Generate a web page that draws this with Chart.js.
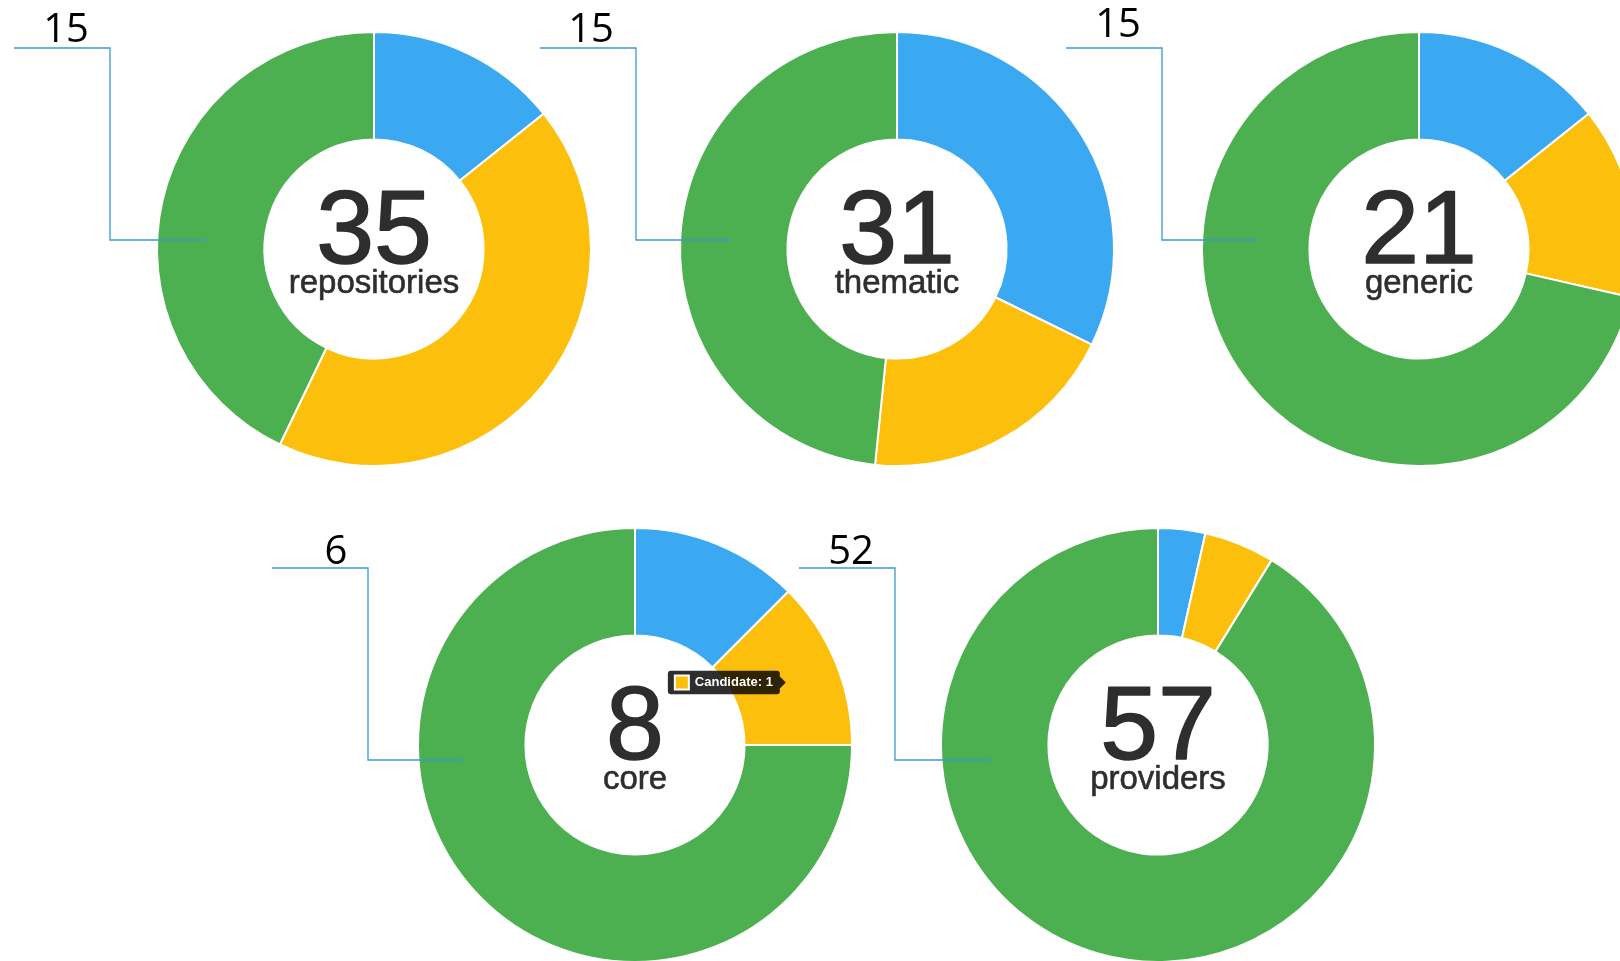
<!DOCTYPE html>
<html>
<head>
<meta charset="utf-8">
<title>Registry overview</title>
<script src="https://cdn.jsdelivr.net/npm/chart.js@4/dist/chart.umd.min.js"></script>
<style>
    html, body { margin: 0; padding: 0; background: #ffffff; overflow: hidden; }
    body { width: 1620px; height: 961px; position: relative; }
    canvas { position: absolute; }
</style>
</head>
<body>
<div id="charts"></div>
<script>
// one doughnut per group, three status slices each
var groupNames = ['repositories', 'thematic', 'generic', 'core', 'providers'];
var statusLabels = ['Approved', 'Candidate', 'Registered'];
var approvedCounts = [5, 10, 3, 1, 2];
var candidateCounts = [15, 6, 3, 1, 3];
var registeredCounts = [15, 15, 15, 6, 52];

var statusColours = ['#3ba8f2', '#fbbf0c', '#4caf50'];

// where each doughnut sits on the page, and its callout geometry (relative to the centre)
var layout = [
    {cx: 374, cy: 249, textX: -308, textY: -207, x0: -360, x1: -264, lineY: -201, elbowY: -9, endX: -168},
    {cx: 897, cy: 249, textX: -306, textY: -207, x0: -357, x1: -261, lineY: -201, elbowY: -9, endX: -165},
    {cx: 1419, cy: 249, textX: -301, textY: -212, x0: -353, x1: -257, lineY: -201, elbowY: -9, endX: -161},
    {cx: 635, cy: 745, textX: -299, textY: -181, x0: -363, x1: -267, lineY: -177, elbowY: 15, endX: -172},
    {cx: 1158, cy: 745, textX: -307, textY: -181, x0: -359, x1: -263, lineY: -177, elbowY: 15, endX: -167}
];

var CANVAS_W = 610, CANVAS_H = 480, PAD_LEFT = 160, PAD_TOP = 40;

var centreText = {
    id: 'centreText',
    afterDatasetsDraw: function(chart) {
        var arc = chart.getDatasetMeta(0).data[0];
        var ctx = chart.ctx;
        var total = chart.data.datasets[0].data.reduce(function(a, b) { return a + b; }, 0);
        ctx.save();
        ctx.fillStyle = '#2e2e2e';
        ctx.strokeStyle = '#2e2e2e';
        ctx.textAlign = 'center';
        ctx.textBaseline = 'alphabetic';
        ctx.lineJoin = 'round';
        // a thin stroke gives the numbers a slightly heavier weight
        ctx.font = '104px "Liberation Sans", Arial, sans-serif';
        ctx.lineWidth = 1.6;
        ctx.fillText(String(total), arc.x, arc.y + 14);
        ctx.strokeText(String(total), arc.x, arc.y + 14);
        ctx.font = '33px "Liberation Sans", Arial, sans-serif';
        ctx.lineWidth = 0.6;
        ctx.fillText(chart.options.plugins.centreText.name, arc.x, arc.y + 44);
        ctx.strokeText(chart.options.plugins.centreText.name, arc.x, arc.y + 44);
        ctx.restore();
    }
};

// elbow line from the big number down into the green slice
var callout = {
    id: 'callout',
    afterDraw: function(chart) {
        var opts = chart.options.plugins.callout;
        var arc = chart.getDatasetMeta(0).data[0];
        var cx = arc.x, cy = arc.y;
        var ctx = chart.ctx;
        var value = chart.data.datasets[0].data[2];
        ctx.save();
        ctx.strokeStyle = '#3a98d6';
        ctx.lineWidth = 1.3;
        ctx.beginPath();
        ctx.moveTo(cx + opts.x0, cy + opts.lineY);
        ctx.lineTo(cx + opts.x1, cy + opts.lineY);
        ctx.lineTo(cx + opts.x1, cy + opts.elbowY);
        ctx.lineTo(cx + opts.endX, cy + opts.elbowY);
        ctx.stroke();
        ctx.fillStyle = '#000000';
        ctx.textAlign = 'center';
        ctx.font = '40px "Open Sans", "Noto Sans", sans-serif';
        ctx.fillText(String(value), cx + opts.textX, cy + opts.textY);
        ctx.restore();
    }
};

var holder = document.getElementById('charts');
var charts = [];

for (var i = 0; i < groupNames.length; i++) {
    var pos = layout[i];
    var canvas = document.createElement('canvas');
    canvas.width = CANVAS_W;
    canvas.height = CANVAS_H;
    canvas.style.left = (pos.cx - PAD_LEFT - 220) + 'px';
    canvas.style.top = (pos.cy - PAD_TOP - 220) + 'px';
    holder.appendChild(canvas);

    var chart = new Chart(canvas.getContext('2d'), {
        type: 'doughnut',
        data: {
            labels: statusLabels,
            datasets: [{
                data: [approvedCounts[i], candidateCounts[i], registeredCounts[i]],
                backgroundColor: statusColours,
                hoverBackgroundColor: statusColours,
                borderColor: '#ffffff',
                borderWidth: 2,
                hoverBorderWidth: 2,
                hoverOffset: 0
            }]
        },
        options: {
            responsive: false,
            animation: false,
            radius: 217,
            cutout: '50.5%',
            events: [],
            layout: {
                padding: {left: PAD_LEFT, top: PAD_TOP, right: CANVAS_W - PAD_LEFT - 440, bottom: CANVAS_H - PAD_TOP - 440}
            },
            plugins: {
                legend: {display: false},
                centreText: {name: groupNames[i]},
                callout: pos,
                tooltip: {
                    enabled: true,
                    backgroundColor: 'rgba(0,0,0,0.82)',
                    xAlign: 'right',
                    yAlign: 'center',
                    caretSize: 6,
                    caretPadding: 0,
                    cornerRadius: 3,
                    padding: {left: 7, right: 7, top: 4, bottom: 4},
                    boxWidth: 14,
                    boxHeight: 14,
                    boxPadding: 4,
                    bodyColor: '#ffffff',
                    bodyFont: {family: '"Liberation Sans", Arial, sans-serif', size: 13, weight: 'bold'},
                    callbacks: {
                        title: function() { return ''; },
                        label: function(item) { return item.label + ': ' + item.formattedValue; }
                    }
                }
            }
        },
        plugins: [centreText, callout]
    });
    charts.push(chart);
}

// the core chart shows its Candidate slice tooltip
var core = charts[3];
var candidateArc = core.getDatasetMeta(0).data[1];
core.tooltip.setActiveElements([{datasetIndex: 0, index: 1}], {x: candidateArc.x, y: candidateArc.y});
core.update();
</script>
</body>
</html>
